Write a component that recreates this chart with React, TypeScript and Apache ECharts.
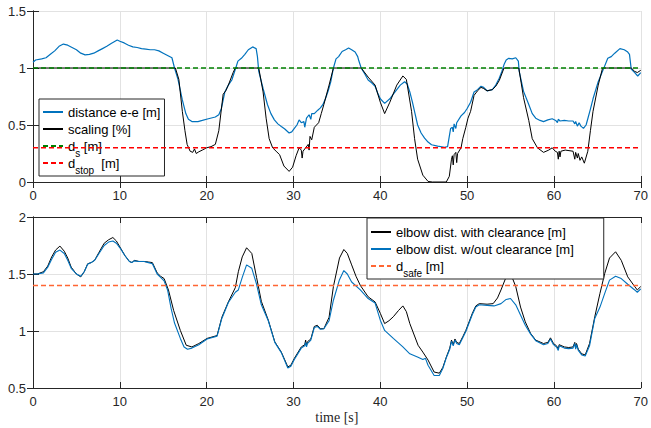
import React, { useEffect, useRef } from 'react';
import * as echarts from 'echarts';

// ---- data (time [s], value) ----
const distanceEE: number[][] = [
  [0,1.05],[0.3,1.07],[1,1.08],[1.5,1.09],[2,1.12],[2.5,1.15],[3,1.19],[3.5,1.21],[4,1.2],[4.5,1.18],[5,1.16],[5.5,1.13],[6,1.115],[6.5,1.12],[7,1.13],[7.5,1.15],[8,1.17],[8.5,1.19],[9,1.215],[9.7,1.245],[10,1.235],[10.5,1.22],[11,1.2],[11.5,1.185],[12,1.18],[12.5,1.17],[13,1.165],[13.5,1.16],[14,1.16],[14.5,1.15],[15,1.13],[15.5,1.11],[16,1.09],[16.3,1.0],[16.7,0.9],[17.2,0.72],[17.6,0.6],[17.9,0.55],[18.3,0.53],[19,0.53],[19.5,0.54],[20.2,0.555],[21,0.57],[21.4,0.59],[21.7,0.645],[22.1,0.79],[22.5,0.85],[22.9,0.895],[23.35,1.0],[23.6,1.06],[24,1.085],[24.4,1.12],[24.8,1.16],[25.3,1.185],[25.7,1.17],[25.85,1.1],[26,0.97],[26.5,0.82],[27,0.68],[27.4,0.6],[27.8,0.545],[28.2,0.51],[28.6,0.487],[29,0.465],[29.5,0.43],[29.8,0.44],[30.1,0.47],[30.4,0.5],[30.65,0.545],[30.9,0.52],[31.2,0.53],[31.3,0.48],[31.5,0.56],[31.8,0.59],[32,0.55],[32.1,0.6],[32.4,0.6],[32.8,0.63],[33.1,0.65],[33.4,0.68],[33.7,0.735],[34,0.8],[34.3,0.88],[34.6,1.0],[34.9,1.08],[35.2,1.1],[35.6,1.145],[36,1.16],[36.35,1.175],[36.7,1.16],[37.1,1.14],[37.4,1.1],[37.5,1.07],[37.8,1.0],[38.2,0.95],[38.6,0.895],[39,0.87],[39.4,0.84],[39.7,0.78],[40,0.73],[40.5,0.69],[41.1,0.73],[41.5,0.77],[41.9,0.81],[42.3,0.85],[42.8,0.88],[43.1,0.86],[43.4,0.79],[43.7,0.7],[44,0.6],[44.3,0.5],[44.7,0.43],[45.1,0.385],[45.5,0.35],[45.9,0.327],[46.6,0.315],[47.4,0.305],[47.75,0.31],[48.1,0.47],[48.3,0.48],[48.4,0.44],[48.5,0.51],[48.7,0.47],[48.8,0.52],[49.3,0.58],[49.7,0.61],[50,0.645],[50.4,0.7],[50.8,0.79],[51.2,0.81],[51.6,0.84],[51.9,0.83],[52.3,0.8],[52.9,0.81],[53.3,0.85],[53.7,0.91],[54,0.97],[54.25,1.03],[54.5,1.07],[54.8,1.085],[55.2,1.08],[55.6,1.09],[55.9,1.06],[56,0.97],[56.5,0.795],[57.1,0.68],[57.5,0.6],[57.9,0.56],[58.4,0.54],[58.8,0.53],[59.3,0.545],[59.8,0.555],[60.2,0.54],[60.4,0.52],[60.5,0.55],[60.7,0.535],[61.2,0.54],[61.7,0.535],[62.2,0.535],[62.4,0.51],[62.5,0.53],[62.7,0.49],[62.9,0.52],[63.1,0.49],[63.4,0.47],[63.7,0.5],[63.9,0.555],[64.2,0.64],[64.5,0.73],[65.1,0.88],[65.7,0.99],[66.2,1.085],[66.6,1.1],[67,1.13],[67.6,1.17],[68.1,1.16],[68.5,1.14],[68.7,1.12],[68.9,0.99],[69.3,0.96],[69.65,0.93],[70,0.96]
];

const scaling: number[][] = [
  [0,1],[16.4,1],[16.8,0.9],[17.2,0.62],[17.5,0.45],[17.75,0.33],[18.1,0.27],[18.4,0.26],[18.6,0.29],[18.8,0.25],[19.1,0.265],[19.5,0.28],[20,0.3],[20.5,0.31],[21,0.33],[21.4,0.45],[21.9,0.77],[22.2,0.8],[22.5,0.85],[23.05,0.96],[23.3,1],[26,1],[26.5,0.79],[26.85,0.56],[27.2,0.38],[27.6,0.3],[28,0.27],[28.4,0.24],[28.9,0.14],[29.5,0.093],[29.9,0.13],[30.3,0.23],[30.65,0.3],[30.9,0.28],[31.0,0.21],[31.1,0.27],[31.4,0.3],[31.7,0.33],[31.8,0.28],[31.9,0.4],[32.1,0.37],[32.4,0.48],[32.9,0.52],[33.2,0.6],[33.5,0.68],[34.1,0.85],[34.6,1],[37.8,1],[38.6,0.92],[39.4,0.85],[40,0.7],[40.5,0.6],[41.1,0.7],[41.9,0.85],[42.6,0.93],[43,0.9],[43.6,0.62],[43.95,0.38],[44.3,0.2],[44.9,0.06],[45.5,0.005],[46,0],[47.6,0],[47.95,0.05],[48.2,0.2],[48.3,0.23],[48.4,0.15],[48.5,0.24],[48.7,0.26],[48.8,0.17],[48.9,0.25],[49.3,0.3],[49.5,0.38],[49.85,0.48],[50.1,0.56],[50.4,0.62],[50.8,0.76],[51.2,0.8],[51.6,0.83],[51.9,0.82],[52.3,0.8],[52.9,0.81],[53.3,0.84],[53.7,0.89],[54.25,1],[55.95,1],[56.5,0.74],[57.1,0.54],[57.5,0.38],[58.1,0.3],[58.8,0.26],[59.4,0.28],[59.8,0.3],[60.15,0.27],[60.4,0.26],[60.5,0.2],[60.6,0.27],[60.7,0.22],[60.8,0.27],[61.3,0.28],[62.2,0.27],[62.4,0.2],[62.5,0.26],[62.7,0.21],[62.8,0.25],[63.0,0.19],[63.2,0.22],[63.5,0.165],[63.9,0.27],[64.2,0.45],[64.5,0.62],[65.1,0.85],[65.6,1],[68.9,1],[69.3,0.97],[69.6,0.96],[70,0.98]
];

const elbowWith: number[][] = [
  [0,1.5],[0.5,1.5],[1.2,1.52],[1.7,1.57],[2.15,1.65],[2.6,1.71],[3.1,1.745],[3.6,1.7],[4,1.64],[4.4,1.56],[5,1.5],[5.5,1.475],[5.9,1.52],[6.3,1.59],[6.7,1.6],[7.1,1.62],[7.6,1.69],[8.2,1.77],[8.7,1.8],[9.2,1.82],[9.6,1.79],[10.1,1.725],[10.6,1.66],[11.1,1.61],[11.4,1.6],[11.65,1.62],[12.2,1.61],[12.8,1.61],[13.3,1.605],[13.75,1.6],[14.3,1.51],[14.7,1.48],[15.1,1.46],[15.6,1.36],[16.2,1.18],[16.97,1.005],[17.65,0.875],[18.3,0.86],[19.1,0.89],[20.05,0.935],[21.2,0.96],[21.75,1.12],[22.5,1.255],[23.3,1.38],[23.65,1.52],[24.1,1.65],[24.6,1.73],[25.2,1.68],[25.75,1.47],[26.3,1.26],[27.1,1.095],[27.85,0.905],[28.6,0.815],[29.35,0.685],[29.7,0.7],[30.1,0.76],[30.9,0.86],[31.3,0.88],[31.4,0.92],[31.5,0.87],[31.6,0.905],[32,0.93],[32.4,1.04],[32.75,1.05],[33.1,1.02],[33.5,1.02],[34.1,1.12],[34.6,1.39],[35.3,1.64],[35.8,1.715],[36.2,1.68],[36.7,1.58],[37.2,1.48],[37.7,1.4],[38.6,1.3],[39.4,1.255],[40,1.155],[40.5,1.065],[41,1.09],[41.5,1.125],[42.1,1.18],[42.6,1.22],[43,1.17],[43.4,1.065],[44.35,0.875],[44.9,0.815],[45.5,0.745],[46.2,0.64],[46.8,0.63],[47.2,0.68],[47.6,0.77],[48,0.85],[48.2,0.92],[48.4,0.88],[48.6,0.93],[48.8,0.9],[49.1,0.89],[49.5,0.95],[49.85,1.005],[50.6,1.155],[51,1.22],[51.4,1.24],[52.3,1.235],[53,1.24],[53.5,1.29],[53.9,1.36],[54.5,1.475],[55,1.505],[55.6,1.39],[56.15,1.21],[56.7,1.08],[57.3,0.98],[57.9,0.92],[58.8,0.89],[59.3,0.9],[59.6,0.94],[59.95,0.89],[60.3,0.87],[60.5,0.84],[60.6,0.88],[61.2,0.86],[61.7,0.855],[62.2,0.86],[62.4,0.9],[62.5,0.85],[62.6,0.89],[62.8,0.84],[63.2,0.8],[63.6,0.79],[64.1,0.89],[64.7,1.124],[65.3,1.33],[65.85,1.505],[66.4,1.64],[67.1,1.695],[67.75,1.62],[68.5,1.475],[69.3,1.39],[69.6,1.36],[70,1.39]
];

const elbowWithout: number[][] = [
  [0,1.5],[0.5,1.5],[1.2,1.51],[1.7,1.56],[2.15,1.63],[2.6,1.69],[3.1,1.71],[3.6,1.68],[4,1.62],[4.4,1.55],[5,1.5],[5.5,1.48],[5.9,1.52],[6.3,1.585],[6.7,1.6],[7.1,1.62],[7.6,1.68],[8.2,1.75],[8.7,1.78],[9.2,1.79],[9.6,1.77],[10.1,1.72],[10.6,1.66],[11.1,1.61],[11.4,1.6],[11.65,1.615],[12.2,1.61],[12.8,1.61],[13.3,1.6],[13.75,1.59],[14.3,1.5],[14.7,1.47],[15.1,1.44],[15.5,1.36],[15.9,1.2],[16.3,1.07],[16.97,0.935],[17.4,0.86],[17.8,0.84],[18.3,0.85],[19.1,0.88],[20.05,0.93],[21.2,0.955],[21.75,1.11],[22.5,1.25],[23.3,1.34],[23.65,1.36],[24.1,1.47],[24.6,1.58],[25.2,1.55],[25.75,1.41],[26.3,1.23],[27.1,1.09],[27.85,0.9],[28.6,0.81],[29.35,0.675],[29.7,0.69],[30.1,0.75],[30.9,0.85],[31.3,0.87],[31.4,0.9],[31.5,0.86],[31.6,0.89],[32,0.92],[32.4,1.03],[32.75,1.04],[33.1,1.015],[33.5,1.02],[34.1,1.09],[34.6,1.27],[35.3,1.45],[35.8,1.53],[36.2,1.5],[36.7,1.43],[37.7,1.36],[38.6,1.285],[39.4,1.245],[40,1.095],[40.5,1.005],[41.5,0.935],[42.6,0.86],[43.4,0.8],[44.35,0.77],[44.9,0.75],[45.2,0.76],[45.5,0.7],[46.2,0.61],[46.8,0.61],[47.2,0.67],[47.6,0.765],[48,0.84],[48.2,0.91],[48.4,0.87],[48.6,0.92],[48.8,0.89],[49.1,0.88],[49.5,0.94],[49.85,0.995],[50.6,1.145],[51,1.21],[51.4,1.23],[52.3,1.225],[53.1,1.22],[53.9,1.24],[54.5,1.277],[55,1.285],[55.6,1.23],[56.15,1.14],[56.7,1.05],[57.3,0.975],[57.9,0.915],[58.8,0.88],[59.3,0.89],[59.6,0.93],[59.95,0.88],[60.3,0.86],[60.5,0.83],[60.6,0.87],[61.2,0.85],[61.7,0.845],[62.2,0.85],[62.4,0.89],[62.5,0.84],[62.6,0.88],[62.8,0.83],[63.2,0.79],[63.6,0.78],[64.1,0.87],[64.7,1.11],[65.3,1.21],[65.85,1.33],[66.4,1.446],[67.1,1.48],[67.75,1.46],[68.5,1.41],[69.3,1.36],[69.6,1.34],[70,1.37]
];

const dS = 1.0;
const dStop = 0.3;
const dSafe = 1.4;
const tRange = [0, 70];
const topYRange = [0, 1.5];
const bottomYRange = [0.5, 2];
const xTickStep = 10;
const yTickStep = 0.5;

const FONT = 'Liberation Sans, Arial, Helvetica, sans-serif';
const AXIS_COLOR = '#262626';
const GRID_COLOR = '#e2e2e2';

const BLUE = '#0072BD';
const BLACK = '#000000';
const GREEN = '#008000';
const RED = '#ff0000';
const ORANGE = '#ff6633';

const legendNames: Record<string, string> = {
  'd_s [m]': 'd{sub|s} [m]',
  'd_stop [m]': 'd{sub|stop}  [m]',
  'd_safe [m]': 'd{sub|safe} [m]',
};

function hLine(y: number) {
  return [
    [tRange[0], y],
    [tRange[1], y],
  ];
}

export default function App() {
  const ref = useRef<HTMLDivElement>(null);

  useEffect(() => {
    if (!ref.current) return;
    const chart = echarts.init(ref.current, null, { renderer: 'svg' });

    const mainX = (gridIndex: number) => ({
      type: 'value',
      gridIndex,
      min: tRange[0],
      max: tRange[1],
      interval: xTickStep,
      position: 'bottom',
      axisLine: { show: true, lineStyle: { color: AXIS_COLOR, width: 1 } },
      axisTick: { show: true, inside: true, length: 6, lineStyle: { color: AXIS_COLOR } },
      axisLabel: { show: true, color: AXIS_COLOR, fontSize: 13, fontFamily: FONT, margin: 7 },
      splitLine: { show: true, lineStyle: { color: GRID_COLOR, width: 1 } },
    });
    const mirrorX = (gridIndex: number) => ({
      type: 'value',
      gridIndex,
      min: tRange[0],
      max: tRange[1],
      interval: xTickStep,
      position: 'top',
      axisLine: { show: true, lineStyle: { color: AXIS_COLOR, width: 1 } },
      axisTick: { show: true, inside: true, length: 6, lineStyle: { color: AXIS_COLOR } },
      axisLabel: { show: false },
      splitLine: { show: false },
    });
    const mainY = (gridIndex: number, range: number[]) => ({
      type: 'value',
      gridIndex,
      min: range[0],
      max: range[1],
      interval: yTickStep,
      position: 'left',
      axisLine: { show: true, lineStyle: { color: AXIS_COLOR, width: 1 } },
      axisTick: { show: true, inside: true, length: 6, lineStyle: { color: AXIS_COLOR } },
      axisLabel: { show: true, color: AXIS_COLOR, fontSize: 13, fontFamily: FONT, margin: 7 },
      splitLine: { show: true, lineStyle: { color: GRID_COLOR, width: 1 } },
    });
    const mirrorY = (gridIndex: number, range: number[]) => ({
      type: 'value',
      gridIndex,
      min: range[0],
      max: range[1],
      interval: yTickStep,
      position: 'right',
      axisLine: { show: true, lineStyle: { color: AXIS_COLOR, width: 1 } },
      axisTick: { show: true, inside: true, length: 6, lineStyle: { color: AXIS_COLOR } },
      axisLabel: { show: false },
      splitLine: { show: false },
    });

    const legendText = {
      color: BLACK,
      fontSize: 13,
      fontFamily: FONT,
      lineHeight: 24,
      rich: {
        sub: { fontSize: 10, fontFamily: FONT, color: BLACK, lineHeight: 8, verticalAlign: 'bottom' },
      },
    };

    const legendCommon = {
      orient: 'vertical',
      itemGap: -7,
      itemWidth: 20,
      itemHeight: 14,
      backgroundColor: '#ffffff',
      borderColor: AXIS_COLOR,
      borderWidth: 1,
      borderRadius: 0,
      selectedMode: false,
      itemStyle: { opacity: 0 },
      formatter: (name: string) => legendNames[name] || name,
      textStyle: legendText,
    };

    const option: any = {
      animation: false,
      backgroundColor: '#ffffff',
      grid: [
        { left: 33, top: 11, width: 613, height: 171, show: false },
        { left: 33, top: 217, width: 613, height: 171, show: false },
      ],
      xAxis: [
        mainX(0),
        mirrorX(0),
        {
          ...mainX(1),
          name: 'time [s]',
          nameLocation: 'middle',
          nameGap: 22,
          nameTextStyle: { fontFamily: 'Liberation Serif, Times New Roman, serif', fontSize: 14, color: AXIS_COLOR, verticalAlign: 'top' },
        },
        mirrorX(1),
      ],
      yAxis: [mainY(0, topYRange), mirrorY(0, topYRange), mainY(1, bottomYRange), mirrorY(1, bottomYRange)],
      legend: [
        {
          ...legendCommon,
          left: 39,
          top: 99,
          padding: [1, 4, 1, 3],
          data: ['distance e-e [m]', 'scaling [%]', 'd_s [m]', 'd_stop [m]'],
        },
        {
          ...legendCommon,
          left: 367,
          top: 218,
          padding: [2, 30, 1, 3],
          data: ['elbow dist. with clearance [m]', 'elbow dist. w/out clearance [m]', 'd_safe [m]'],
        },
      ],
      series: [
        {
          name: 'distance e-e [m]', type: 'line', xAxisIndex: 0, yAxisIndex: 0,
          data: distanceEE, symbol: 'none', showSymbol: false,
          lineStyle: { color: BLUE, width: 1.2 }, itemStyle: { color: BLUE }, z: 3,
        },
        {
          name: 'scaling [%]', type: 'line', xAxisIndex: 0, yAxisIndex: 0,
          data: scaling, symbol: 'none', showSymbol: false,
          lineStyle: { color: BLACK, width: 1 }, itemStyle: { color: BLACK }, z: 4,
        },
        {
          name: 'd_s [m]', type: 'line', xAxisIndex: 0, yAxisIndex: 0,
          data: hLine(dS), symbol: 'none', showSymbol: false,
          lineStyle: { color: GREEN, width: 1.5, type: [5, 3] }, itemStyle: { color: GREEN }, z: 5,
        },
        {
          name: 'd_stop [m]', type: 'line', xAxisIndex: 0, yAxisIndex: 0,
          data: hLine(dStop), symbol: 'none', showSymbol: false,
          lineStyle: { color: RED, width: 1.5, type: [5, 3] }, itemStyle: { color: RED }, z: 5,
        },
        {
          name: 'elbow dist. with clearance [m]', type: 'line', xAxisIndex: 2, yAxisIndex: 2,
          data: elbowWith, symbol: 'none', showSymbol: false,
          lineStyle: { color: BLACK, width: 1 }, itemStyle: { color: BLACK }, z: 3,
        },
        {
          name: 'elbow dist. w/out clearance [m]', type: 'line', xAxisIndex: 2, yAxisIndex: 2,
          data: elbowWithout, symbol: 'none', showSymbol: false,
          lineStyle: { color: BLUE, width: 1.1 }, itemStyle: { color: BLUE }, z: 4,
        },
        {
          name: 'd_safe [m]', type: 'line', xAxisIndex: 2, yAxisIndex: 2,
          data: hLine(dSafe), symbol: 'none', showSymbol: false,
          lineStyle: { color: ORANGE, width: 1.5, type: [5, 3] }, itemStyle: { color: ORANGE }, z: 5,
        },
      ],
    };

    chart.setOption(option);
    return () => chart.dispose();
  }, []);

  return <div ref={ref} style={{ position: 'absolute', left: 0, top: 0, width: 651, height: 428 }} />;
}
